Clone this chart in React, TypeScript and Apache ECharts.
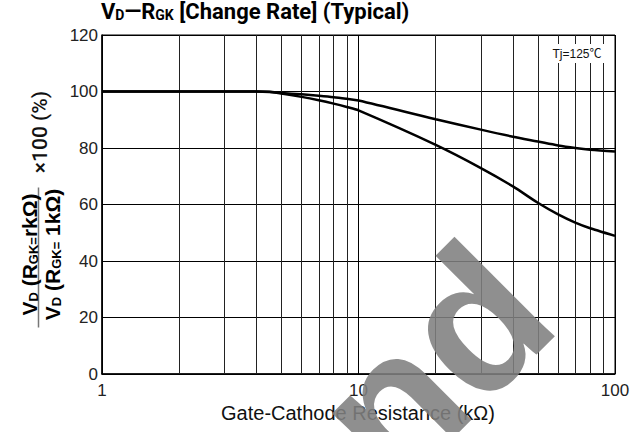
import React, { useEffect, useRef } from "react";
import * as echarts from "echarts";

const resistance = [1, 2, 3, 4, 4.5, 5, 6, 7, 8, 9, 10, 20, 30, 40, 50, 60, 70, 80, 100];
const upperValues = [100, 100, 100, 100, 99.9, 99.5, 99.0, 98.5, 98.0, 97.4, 96.8, 90.2, 86.5, 84.0, 82.3, 80.9, 80.0, 79.4, 78.8];
const lowerValues = [100, 100, 100, 100, 99.8, 99.3, 98.1, 96.9, 95.7, 94.5, 93.3, 81.1, 72.9, 66.4, 60.6, 56.5, 53.6, 51.6, 48.9];
const minorGridX = [2, 3, 4, 5, 6, 7, 8, 9, 20, 30, 40, 50, 60, 70, 80, 90];
const titleText = "{a|V}{s|D}{a|—R}{s|GK}{a| [Change Rate] (Typical)}";
const xAxisName = "Gate-Cathode Resistance (kΩ)";
const conditionLabel = "Tj=125℃";

const FONT = "'Liberation Sans', 'Noto Sans CJK JP', sans-serif";
const TFONT = "Roboto, 'Liberation Sans', sans-serif";

export default function App() {
  const ref = useRef<HTMLDivElement>(null);
  useEffect(() => {
    document.body.style.margin = "0";
    const chart = echarts.init(ref.current!, null, { renderer: "svg" });
    const toPairs = (vals: number[]) => resistance.map((r, i) => [r, vals[i]]);
    const fracRich = {
      b: { fontSize: 21, fontWeight: "bold", fontFamily: FONT, lineHeight: 24, verticalAlign: "bottom", fill: "#000" },
      s: { fontSize: 13, fontWeight: "bold", fontFamily: FONT, lineHeight: 17, verticalAlign: "bottom", fill: "#000" },
    };
    chart.setOption({
      animation: false,
      backgroundColor: "#fff",
      grid: { left: 102, right: 29, top: 35, bottom: 58, show: true, borderColor: "#000", borderWidth: 1 },
      xAxis: {
        type: "log",
        logBase: 10,
        min: 1,
        max: 100,
        axisLine: { show: true, lineStyle: { color: "#000", width: 1.5 } },
        axisTick: { show: false },
        axisLabel: { color: "#222", fontSize: 17, fontFamily: FONT, margin: 8 },
        splitLine: { show: true, lineStyle: { color: "#000", width: 1 } },
        minorTick: { show: false },
        minorSplitLine: { show: false },
      },
      yAxis: {
        type: "value",
        min: 0,
        max: 120,
        interval: 20,
        axisLine: { show: true, lineStyle: { color: "#000", width: 1.5 } },
        axisTick: { show: false },
        axisLabel: { color: "#222", fontSize: 17, fontFamily: FONT, margin: 4 },
        splitLine: { show: true, lineStyle: { color: "#000", width: 1 } },
      },
      series: [
        {
          type: "line",
          data: [],
          silent: true,
          markLine: {
            silent: true,
            symbol: "none",
            label: { show: false },
            lineStyle: { color: "#222", width: 1, type: "solid" },
            emphasis: { disabled: true },
            data: minorGridX.map((v) => ({ xAxis: v })),
          },
        },
        {
          type: "line",
          data: toPairs(upperValues),
          smooth: 0.3,
          showSymbol: false,
          lineStyle: { color: "#000", width: 2.5 },
          z: 5,
        },
        {
          type: "line",
          data: toPairs(lowerValues),
          smooth: 0.3,
          showSymbol: false,
          lineStyle: { color: "#000", width: 2.5 },
          z: 5,
        },
      ],
      graphic: [
        {
          type: "text",
          left: 101,
          top: 0,
          z: 10,
          style: {
            text: titleText,
            fill: "#000",
            rich: {
              a: { fontSize: 22, fontWeight: "bold", fontFamily: TFONT, lineHeight: 25, verticalAlign: "bottom", fill: "#000" },
              s: { fontSize: 14, fontWeight: "bold", fontFamily: TFONT, lineHeight: 18, verticalAlign: "bottom", fill: "#000" },
            },
          },
        },
        {
          type: "rect",
          z: 10,
          shape: { x: 545, y: 44, width: 65, height: 19 },
          style: { fill: "#fff" },
        },
        {
          type: "text",
          x: 577,
          y: 54,
          z: 11,
          style: { text: conditionLabel, fontSize: 12, fontFamily: FONT, fill: "#111", align: "center", verticalAlign: "middle" },
        },
        {
          type: "text",
          x: 358,
          y: 413,
          z: 10,
          style: { text: xAxisName, fontSize: 20, fontFamily: FONT, fill: "#111", align: "center", verticalAlign: "middle" },
        },
        {
          type: "text",
          x: 39.5,
          y: 132,
          rotation: Math.PI / 2,
          z: 10,
          style: { text: "×100 (%)", fontSize: 21, fontWeight: 500, fontFamily: TFONT, fill: "#111", align: "center", verticalAlign: "middle" },
        },
        {
          type: "group",
          x: 38.5,
          y: 257.5,
          rotation: Math.PI / 2,
          z: 10,
          children: [
            {
              type: "line",
              shape: { x1: -70, y1: 0, x2: 70, y2: 0 },
              style: { stroke: "#777", lineWidth: 1.5 },
            },
            {
              type: "text",
              x: 3,
              y: -11,
              style: {
                text: "{b|V}{s|D}{b| (R}{s|GK=}{b|rkΩ)}",
                align: "center",
                verticalAlign: "middle",
                rich: fracRich,
              },
            },
            {
              type: "text",
              x: 3,
              y: 12,
              style: {
                text: "{b|V}{s|D}{b| (R}{s|GK=}{b| 1kΩ)}",
                align: "center",
                verticalAlign: "middle",
                rich: fracRich,
              },
            },
          ],
        },
        {
          type: "text",
          x: 516,
          y: 279,
          rotation: Math.PI / 4,
          z: 50,
          silent: true,
          style: {
            text: "nd",
            fontSize: 195,
            fontWeight: "bold",
            fontFamily: FONT,
            fill: "rgba(128,128,128,0.88)",
            align: "right",
            verticalAlign: "middle",
          },
        },
      ],
    });
    return () => chart.dispose();
  }, []);
  return <div ref={ref} style={{ position: "fixed", left: 0, top: 0, width: 644, height: 432 }} />;
}
